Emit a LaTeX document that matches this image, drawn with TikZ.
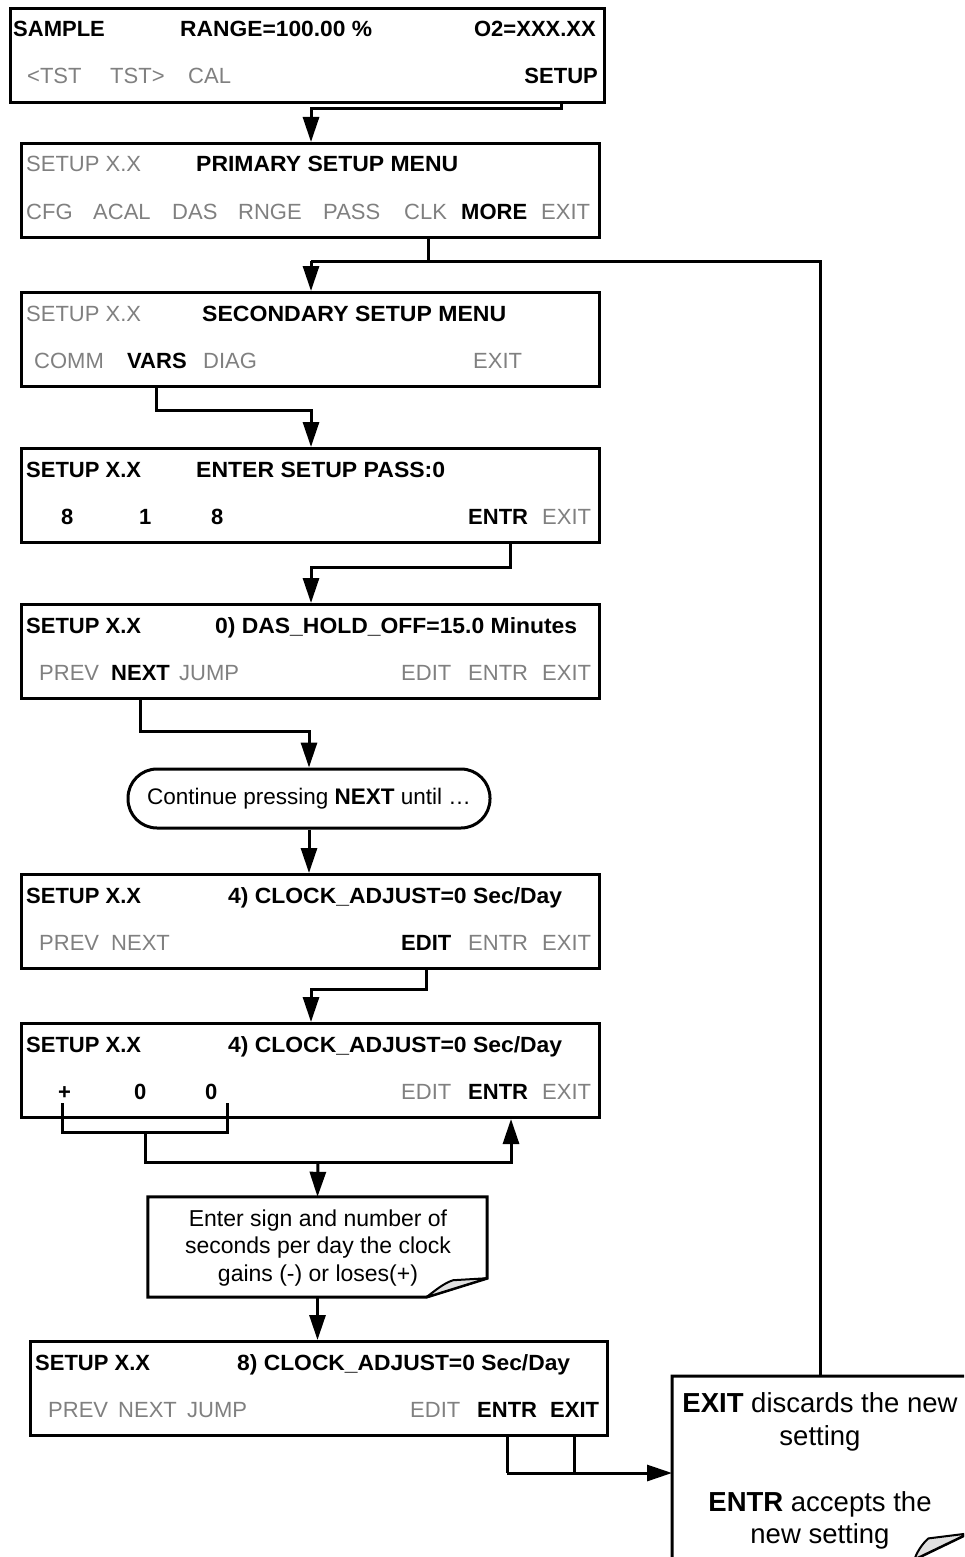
\documentclass[tikz,border=0pt]{standalone}
\usepackage{fontspec}
\usepackage{graphicx}
\setmainfont{Liberation Sans}
\usetikzlibrary{arrows.meta}
\definecolor{keygray}{RGB}{128,128,128}
\definecolor{foldgray}{RGB}{224,224,224}
\newcommand{\fitw}[2]{\resizebox{#1pt}{\height}{#2}}
\begin{document}
\begin{tikzpicture}[x=1pt,y=-1pt,
 scr/.style={draw,line width=3pt,inner sep=0pt,anchor=north west,minimum height=94pt},
 txt/.style={inner sep=0pt,anchor=base west,font=\fontsize{22}{26}\selectfont},
 kb/.style={txt,font=\fontsize{22}{26}\selectfont\bfseries},
 kg/.style={txt,text=keygray},
 conn/.style={line width=3pt},
 arr/.style={conn,-{Triangle[length=25pt,width=16pt]}},
 notetxt/.style={inner sep=0pt,anchor=base,font=\fontsize{23}{28}\selectfont},
 bignote/.style={inner sep=0pt,anchor=base,font=\fontsize{27.5}{33}\selectfont},
 fold/.style={draw,line width=2pt,fill=foldgray,line join=round},
]
\useasboundingbox (0,0) rectangle (964,1557);
\fill[white] (0,0) rectangle (964,1557);
\clip (0,0) rectangle (964,1557);

% ---------- screens ----------
\node[scr,minimum width=594pt] (b1) at (9,7) {};
\node[scr,minimum width=578pt] (b2) at (20,142) {};
\node[scr,minimum width=578pt] (b3) at (20,291) {};
\node[scr,minimum width=578pt] (b4) at (20,447) {};
\node[scr,minimum width=578pt] (b5) at (20,603) {};
\node[scr,minimum width=578pt] (b6) at (20,873) {};
\node[scr,minimum width=578pt] (b7) at (20,1022) {};
\node[scr,minimum width=577pt] (b8) at (29,1340) {};

% box 1
\node[kb] (t1a) at (13,37) {SAMPLE};
\node[kb] (t1b) at (180,37) {\fitw{192}{RANGE=100.00 \%}};
\node[kb,anchor=base east] (t1c) at (596,37) {O2=XXX.XX};
\node[kg] (t1d) at (27,84) {<TST};
\node[kg] (t1e) at (110,84) {TST>};
\node[kg] (t1f) at (188,84) {CAL};
\node[kb,anchor=base east] (t1g) at (598,84) {SETUP};

% box 2
\node[kg] (t2a) at (26,172) {SETUP X.X};
\node[kb] (t2b) at (196,172) {\fitw{262}{PRIMARY SETUP MENU}};
\node[kg] (t2c) at (26,219) {CFG};
\node[kg] (t2d) at (93,219) {ACAL};
\node[kg] (t2e) at (172,219) {DAS};
\node[kg] (t2f) at (238,219) {RNGE};
\node[kg] (t2g) at (323,219) {PASS};
\node[kg] (t2h) at (404,219) {CLK};
\node[kb] (t2i) at (461,219) {MORE};
\node[kg] (t2j) at (541,219) {EXIT};

% box 3
\node[kg] (t3a) at (26,321) {SETUP X.X};
\node[kb] (t3b) at (202,321) {\fitw{304}{SECONDARY SETUP MENU}};
\node[kg] (t3c) at (34,368) {COMM};
\node[kb] (t3d) at (127,368) {VARS};
\node[kg] (t3e) at (203,368) {DIAG};
\node[kg] (t3f) at (473,368) {EXIT};

% box 4
\node[kb] (t4a) at (26,477) {SETUP X.X};
\node[kb] (t4b) at (196,477) {\fitw{249}{ENTER SETUP PASS:0}};
\node[kb] (t4c) at (61,524) {8};
\node[kb] (t4d) at (139,524) {1};
\node[kb] (t4e) at (211,524) {8};
\node[kb] (t4f) at (468,524) {ENTR};
\node[kg] (t4g) at (542,524) {EXIT};

% box 5
\node[kb] (t5a) at (26,633) {SETUP X.X};
\node[kb] (t5b) at (215,633) {\fitw{362}{0) DAS\_HOLD\_OFF=15.0 Minutes}};
\node[kg] (t5c) at (39,680) {PREV};
\node[kb] (t5d) at (111,680) {NEXT};
\node[kg] (t5e) at (179,680) {JUMP};
\node[kg] (t5f) at (401,680) {EDIT};
\node[kg] (t5g) at (468,680) {ENTR};
\node[kg] (t5h) at (542,680) {EXIT};

% box 6
\node[kb] (t6a) at (26,903) {SETUP X.X};
\node[kb] (t6b) at (228,903) {\fitw{334}{4) CLOCK\_ADJUST=0 Sec/Day}};
\node[kg] (t6c) at (39,950) {PREV};
\node[kg] (t6d) at (111,950) {NEXT};
\node[kb] (t6e) at (401,950) {EDIT};
\node[kg] (t6f) at (468,950) {ENTR};
\node[kg] (t6g) at (542,950) {EXIT};

% box 7
\node[kb] (t7a) at (26,1052) {SETUP X.X};
\node[kb] (t7b) at (228,1052) {\fitw{334}{4) CLOCK\_ADJUST=0 Sec/Day}};
\node[kb] (t7c) at (58,1099) {+};
\node[kb] (t7d) at (134,1099) {0};
\node[kb] (t7e) at (205,1099) {0};
\node[kg] (t7f) at (401,1099) {EDIT};
\node[kb] (t7g) at (468,1099) {ENTR};
\node[kg] (t7h) at (542,1099) {EXIT};

% box 8
\node[kb] (t8a) at (35,1370) {SETUP X.X};
\node[kb] (t8b) at (237,1370) {\fitw{333}{8) CLOCK\_ADJUST=0 Sec/Day}};
\node[kg] (t8c) at (48,1417) {PREV};
\node[kg] (t8d) at (118,1417) {NEXT};
\node[kg] (t8e) at (187,1417) {JUMP};
\node[kg] (t8f) at (410,1417) {EDIT};
\node[kb] (t8g) at (477,1417) {ENTR};
\node[kb] (t8h) at (550,1417) {EXIT};

% ---------- pill ----------
\node[draw,line width=3pt,rounded corners=29pt,minimum width=362pt,minimum height=59pt,inner sep=0pt,
      font=\fontsize{22.5}{27}\selectfont] (p) at (309,798.5) {Continue pressing \textbf{NEXT} until …};

% ---------- note 1 ----------
\node[minimum width=339pt,minimum height=100pt,inner sep=0pt] (n1) at (317.5,1247) {};
\draw[line width=3pt] (n1.north west) -- (n1.north east) -- ([yshift=19pt]n1.south east)
   -- ([xshift=-61pt]n1.south east) -- (n1.south west) -- cycle;
\draw[fold] ([yshift=19pt]n1.south east) -- ([shift={(-34pt,17pt)}]n1.south east)
   .. controls ([shift={(-44pt,14pt)}]n1.south east) and ([shift={(-54pt,5pt)}]n1.south east)
   .. ([xshift=-61pt]n1.south east) -- cycle;
\node[notetxt] (n1a) at (318,1226) {Enter sign and number of};
\node[notetxt] (n1b) at (318,1253) {seconds per day the clock};
\node[notetxt] (n1c) at (318,1281) {gains (-) or loses(+)};

% ---------- note 2 ----------
\node[minimum width=296pt,minimum height=183pt,inner sep=0pt,anchor=north west] (n2) at (672,1376) {};
\draw[line width=3pt] (n2.north west) -- (n2.north east) -- ([yshift=26pt]n2.south east)
   -- ([xshift=-54pt]n2.south east) -- (n2.south west) -- cycle;
\draw[fold] ([yshift=26pt]n2.south east) -- ([shift={(-40pt,21pt)}]n2.south east)
   .. controls ([shift={(-47pt,15pt)}]n2.south east) and ([shift={(-52pt,6pt)}]n2.south east)
   .. ([xshift=-54pt]n2.south east) -- cycle;
\node[bignote] (n2a) at (820,1412) {\textbf{EXIT} discards the new};
\node[bignote] (n2b) at (820,1445) {setting};
\node[bignote] (n2c) at (820,1511) {\textbf{ENTR} accepts the};
\node[bignote] (n2d) at (820,1543) {new setting};

% ---------- connectors ----------
\draw[arr] (b1.south -| t1g) -- ++(0,5) -| ([xshift=291pt]b2.north west);

\coordinate (j2) at (311,261);
\draw[conn] ([xshift=408pt]b2.south west) |- (j2);
\draw[arr] (j2) -- (b3.north -| j2);
\draw[conn] (j2) -| (n2.north);

\draw[arr] (b3.south -| t3d) -- ++(0,22) -| ([xshift=291pt]b4.north west);
\draw[arr] ([xshift=490pt]b4.south west) -- ++(0,23) -| ([xshift=291pt]b5.north west);
\draw[arr] (b5.south -| t5d) -- ++(0,31) -| (p.north);
\draw[arr] (p.south) -- (b6.north -| p.south);
\draw[arr] (b6.south -| t6e) -- ++(0,19) -| ([xshift=291pt]b7.north west);

\coordinate (brL) at (62,1103);
\coordinate (brR) at (227,1103);
\coordinate (brM) at (145,1132);
\coordinate (jn) at (318,1162);
\draw[conn] (brL) |- (brM) -| (brR);
\draw[conn] (brM) |- (jn);
\draw[arr] (jn) -- (n1.north);
\draw[arr] (jn) -| ([xshift=491pt]b7.south west);

\draw[arr] (n1.south) -- (b8.north -| n1.south);

\draw[conn] (b8.south -| t8g) -- ++(0,36) coordinate (j8);
\draw[arr] (j8) -- (n2.west |- j8);
\draw[conn] (b8.south -| t8h) -- (t8h |- j8);
\end{tikzpicture}
\end{document}
